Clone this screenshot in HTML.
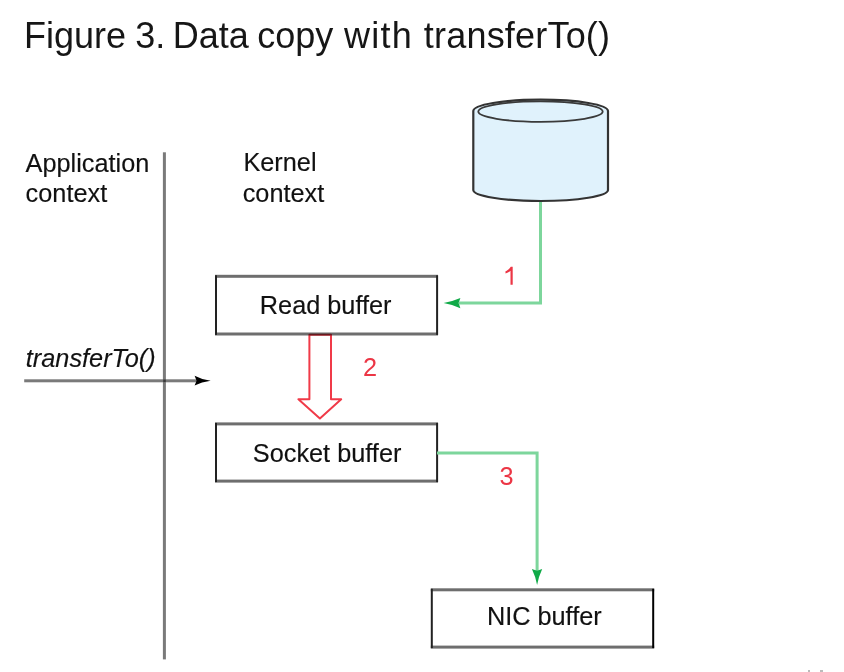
<!DOCTYPE html>
<html><head><meta charset="utf-8">
<style>
html,body{margin:0;padding:0;background:#fff;width:844px;height:672px;overflow:hidden}
svg{position:absolute;left:0;top:0;will-change:transform}
text{font-family:"Liberation Sans",sans-serif}
</style></head><body>
<svg width="844" height="672" viewBox="0 0 844 672">
<g font-size="36" fill="#161616">
<text x="24" y="48.2">Figure</text>
<text x="135.3" y="48.2">3.</text>
<text x="172.7" y="48.2">Data</text>
<text x="257.3" y="48.2">copy</text>
<text x="343.9" y="48.2" letter-spacing="1.3">with</text>
<text x="423.8" y="48.2" letter-spacing="0.2">transferTo()</text>
</g>

<g>
<!-- vertical separator -->
<rect x="162.9" y="152.3" width="3" height="507.1" fill="#7a7a7a"/>

<!-- labels -->
<g font-size="25.3" fill="#111" stroke="#111" stroke-width="0.15">
<text x="25.6" y="171.6">Application</text>
<text x="25.6" y="201.6">context</text>
<text x="243.4" y="171.4">Kernel</text>
<text x="242.7" y="202.0">context</text>
<text x="259.8" y="314.2">Read buffer</text>
<text x="252.8" y="461.8">Socket buffer</text>
<text x="486.9" y="625.3">NIC buffer</text>
<text x="25.8" y="366.8" font-style="italic">transferTo()</text>
</g>
<g font-size="25.3" fill="#ec3645">
<path d="M512.7 266.8 H510.8 C509.9 268.6 507.8 270.3 505.5 271.3 V273.6 C507.5 272.9 509.3 271.9 510.5 270.8 V284.8 H512.7 Z"/>
<text x="362.9" y="376.4">2</text>
<text x="499.6" y="484.6">3</text>
</g>

<!-- transferTo arrow -->
<rect x="24.2" y="379.3" width="173" height="3" fill="#7a7a7a"/>
<rect x="163.2" y="379.5" width="2.6" height="2.6" fill="#3a3a3a"/>
<path d="M210.7 380.8 Q201.5 379.6 194.6 375.8 L196.6 380.8 L194.6 385.6 Q201.5 382 210.7 380.8 Z" fill="#000"/>

<!-- boxes: vertical edges dark 2px, horizontal edges gray 3px -->
<g fill="#6e6e6e">
<rect x="215" y="274.8" width="223" height="3"/>
<rect x="215" y="332.5" width="223" height="3"/>
<rect x="215" y="422.4" width="223" height="3"/>
<rect x="215" y="479.6" width="223" height="3"/>
<rect x="430.8" y="588.3" width="223.4" height="3"/>
<rect x="430.8" y="645.6" width="223.4" height="3"/>
</g>
<g fill="#222">
<rect x="215" y="275.3" width="2" height="59.6"/>
<rect x="436.1" y="275.3" width="2" height="59.6"/>
<rect x="215" y="422.9" width="2" height="59.2"/>
<rect x="436.1" y="422.9" width="2" height="59.2"/>
<rect x="430.8" y="588.8" width="2" height="59.3"/>
<rect x="652.2" y="588.8" width="2" height="59.3" fill="#000"/>
</g>

<!-- cylinder -->
<path d="M473.3 111 A67.35 11.3 0 0 1 608 111 L608 190 A67.35 11 0 0 1 473.3 190 Z" fill="#e0f2fc" stroke="#333" stroke-width="2.2"/>
<ellipse cx="540.5" cy="111.6" rx="62.2" ry="10.2" fill="#e0f2fc" stroke="#3a3a3a" stroke-width="1.8"/>

<!-- green arrows -->
<g fill="none" stroke="#7dd69c" stroke-width="3">
<path d="M540.5 202 V303 H459"/>
<path d="M437 452.9 H537.1 V571"/>
</g>
<path d="M443.6 303 Q452 301.6 460.4 298 L458.6 303 L460.4 308.2 Q452 304.4 443.6 303 Z" fill="#10aa48"/>
<path d="M537.1 585 Q535.6 576.5 531.9 569 L537.1 570.8 L542.2 569 Q538.6 576.5 537.1 585 Z" fill="#10aa48"/>

<!-- red hollow arrow -->
<path d="M309.4 334.8 V399.2 H298.4 L319.9 418.4 L341.2 399.2 H331 V334.8 Z" fill="none" stroke="#f03a48" stroke-width="2" stroke-linejoin="round" style="mix-blend-mode:multiply"/>

</g>
<rect x="808" y="670" width="2" height="2" fill="#bbb"/>
<rect x="820" y="670" width="3" height="2" fill="#bbb"/>
</svg>
</body></html>
